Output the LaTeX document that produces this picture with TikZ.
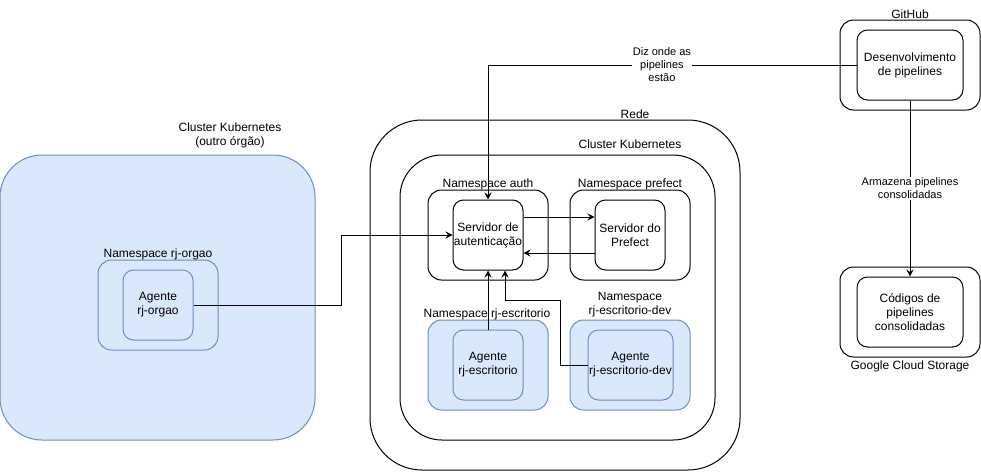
\documentclass[tikz,border=0pt]{standalone}
\usepackage{fontspec}
\setmainfont{Liberation Sans}
\usetikzlibrary{arrows.meta}

\definecolor{bluefill}{HTML}{DAE8FC}
\definecolor{bluedraw}{HTML}{6C8EBF}

\begin{document}
\begin{tikzpicture}[x=1pt, y=-1pt, line width=1pt,
    box/.style={draw, rectangle, inner sep=0pt, align=center, font=\fontsize{12}{14}\selectfont},
    big/.style={box, rounded corners=42pt, minimum width=315pt, minimum height=285pt},
    ns/.style={box, rounded corners=13.5pt, minimum width=120pt, minimum height=90pt},
    srv/.style={box, rounded corners=10.5pt, minimum width=70pt, minimum height=70pt},
    store/.style={box, rounded corners=13.5pt, minimum width=140pt, minimum height=90pt},
    blue/.style={fill=bluefill, draw=bluedraw},
    lbl/.style={inner sep=0pt, align=center, font=\fontsize{12}{14}\selectfont},
    tag/.style={fill=white, inner sep=1pt, align=center, font=\fontsize{11}{13}\selectfont},
    arr/.style={-{Stealth[length=7pt, width=7pt, inset=2.5pt]}}]
    \useasboundingbox (0,0) rectangle (981,471);

    % outro orgao
    \node[big, blue] (outro) at (157.5,297.5) {};
    \node[lbl] (outrolbl) at (230,135) {Cluster Kubernetes\\(outro órgão)};
    \node[ns, blue] (nsorgao) at (158,305) {};
    \node[lbl] (nsorgaolbl) at (158,254) {Namespace rj-orgao};
    \node[srv, blue] (agorgao) at (158,305) {Agente\\rj-orgao};

    % rede
    \node[box, rounded corners=52pt, minimum width=370pt, minimum height=350pt] (rede) at (555,295) {};
    \node[lbl] (redelbl) at (635,114) {Rede};
    \node[big] (cluster) at (557.5,297.5) {};
    \node[lbl] (clusterlbl) at (630,144) {Cluster Kubernetes};

    \node[ns] (nsauth) at (488,235) {};
    \node[lbl] (nsauthlbl) at (488,184) {Namespace auth};
    \node[srv] (auth) at (488,235) {Servidor de\\autenticação};

    \node[ns] (nsprefect) at (630,235) {};
    \node[lbl] (nsprefectlbl) at (630,184) {Namespace prefect};
    \node[srv] (prefect) at (630,235) {Servidor do\\Prefect};

    \node[ns, blue] (nsesc) at (488,365) {};
    \node[lbl] (nsesclbl) at (487,314) {Namespace rj-escritorio};
    \node[srv, blue] (agesc) at (488,365) {Agente\\rj-escritorio};

    \node[ns, blue] (nsdev) at (630,365) {};
    \node[lbl] (nsdevlbl) at (630,305) {Namespace\\rj-escritorio-dev};
    \node[srv, blue, minimum width=85pt] (agdev) at (630.5,365) {Agente\\rj-escritorio-dev};

    % github / gcs
    \node[store] (github) at (910,65) {};
    \node[lbl] (githublbl) at (910,14) {GitHub};
    \node[srv, minimum width=106pt] (dev) at (910,65) {Desenvolvimento\\de pipelines};

    \node[store] (gcs) at (910,312) {};
    \node[lbl] (gcslbl) at (910,366) {Google Cloud Storage};
    \node[srv, minimum width=106pt] (codigos) at (910,312) {Códigos de\\pipelines\\consolidadas};

    \coordinate (devbend) at (560,300);

    \draw[arr] (agorgao.east) -- ++(148,0) |- (auth.west);
    \draw[arr] ([yshift=18pt]auth.east) -- ([yshift=18pt]prefect.west);
    \draw[arr] ([yshift=-18pt]prefect.west) -- ([yshift=-18pt]auth.east);
    \draw[arr] (agesc.north) -- (auth.south);
    \draw[arr] (agdev.west) -| (devbend) -| ([xshift=17pt]auth.south);
    \draw[arr] (dev.west) -| (auth.north) node[tag, pos=0.264] {Diz onde as\\pipelines\\estão};
    \draw[arr] (dev.south) -- (codigos.north) node[tag, midway] {Armazena pipelines\\consolidadas};
\end{tikzpicture}
\end{document}
